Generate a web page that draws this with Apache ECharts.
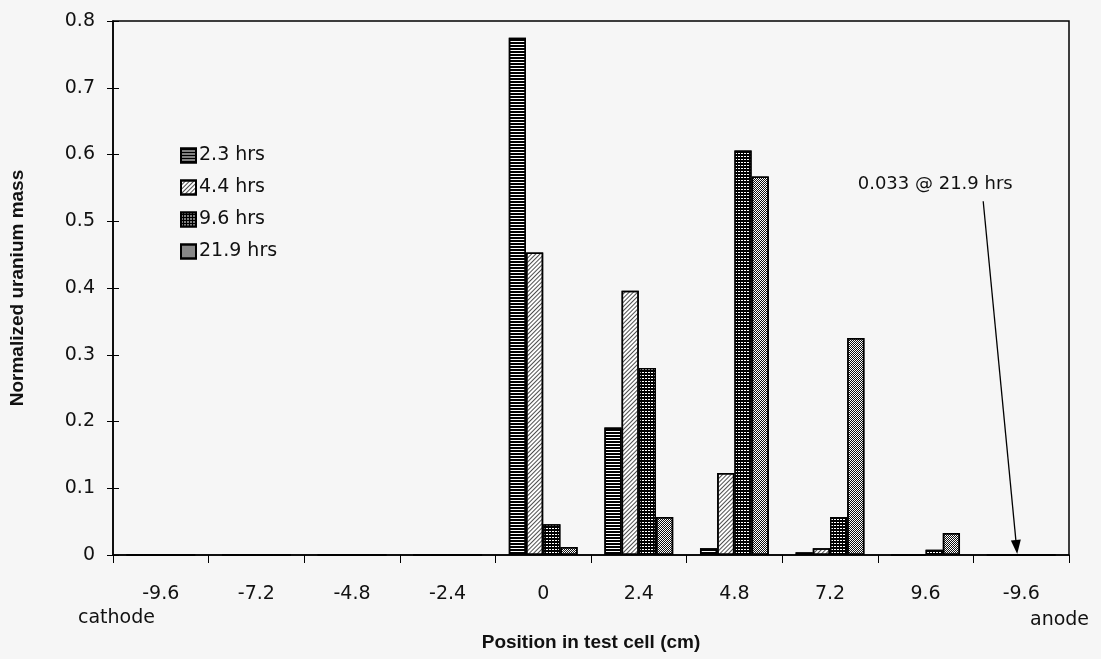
<!DOCTYPE html>
<html>
<head>
<meta charset="utf-8">
<script src="https://cdn.jsdelivr.net/npm/echarts@6/dist/echarts.min.js"></script>
<style>
  html, body { margin: 0; padding: 0; background: #f6f6f6; }
  #chart { width: 1101px; height: 659px; }
</style>
</head>
<body>
<div id="chart"></div>
<script>
// Positions along the test cell (cm), as labelled on the axis
const positions = ['-9.6', '-7.2', '-4.8', '-2.4', '0', '2.4', '4.8', '7.2', '9.6', '-9.6'];
const seriesNames = ['2.3 hrs', '4.4 hrs', '9.6 hrs', '21.9 hrs'];
// Normalized uranium mass at each position
const mass_2_3 = [0, 0, 0, 0, 0.775, 0.191, 0.010, 0.004, 0, 0];
const mass_4_4 = [0, 0, 0, 0, 0.453, 0.396, 0.123, 0.010, 0, 0];
const mass_9_6 = [0, 0, 0, 0, 0.046, 0.280, 0.606, 0.057, 0.008, 0];
const mass_21_9 = [0, 0, 0, 0, 0.012, 0.057, 0.567, 0.325, 0.033, 0];
const yTicks = [0, 0.1, 0.2, 0.3, 0.4, 0.5, 0.6, 0.7, 0.8];
const noteText = '0.033 @ 21.9 hrs';

const tickFont = 'DejaVu Sans';
const titleFont = 'Liberation Sans';

const patterns = [
  { fill: '#ffffff', decal: { symbol: 'rect', color: '#000', dashArrayX: [1, 0], dashArrayY: [2, 1], rotation: 0 } },
  { fill: '#ffffff', decal: { symbol: 'rect', color: '#222', dashArrayX: [1, 0], dashArrayY: [1, 2], rotation: -Math.PI / 4 } },
  { fill: '#000000', decal: { symbol: 'rect', color: '#fff', dashArrayX: [2, 1], dashArrayY: [1, 1.5], rotation: 0 } },
  { fill: '#ffffff', decal: { symbol: 'rect', color: '#111', dashArrayX: [[1, 1], [0, 1, 1, 0]], dashArrayY: [1, 0], rotation: 0 } }
];
const seriesData = [mass_2_3, mass_4_4, mass_9_6, mass_21_9];

const chart = echarts.init(document.getElementById('chart'), null, { renderer: 'canvas' });

const series = seriesNames.map((name, i) => ({
  name: name,
  type: 'bar',
  data: seriesData[i],
  barGap: '0%',
  barCategoryGap: '28%',
  itemStyle: {
    color: patterns[i].fill,
    borderColor: '#000',
    borderWidth: 1.5,
    decal: patterns[i].decal
  },
  emphasis: { disabled: true }
}));

chart.setOption({
  backgroundColor: '#f6f6f6',
  animation: false,
  aria: { enabled: true, decal: { show: true } },
  grid: {
    left: 113, right: 32, top: 21, bottom: 104,
    show: true, borderColor: '#000', borderWidth: 1.5, backgroundColor: 'transparent'
  },
  legend: {
    orient: 'vertical',
    left: 175, top: 141,
    itemWidth: 15, itemHeight: 14, itemGap: 13,
    icon: 'rect',
    textStyle: { fontFamily: tickFont, fontSize: 19, color: '#111', padding: [0, 0, 0, -2] },
    data: seriesNames
  },
  xAxis: {
    type: 'category',
    data: positions,
    name: 'Position in test cell (cm)',
    nameLocation: 'middle',
    nameGap: 78,
    nameTextStyle: { fontFamily: titleFont, fontWeight: 'bold', fontSize: 19, color: '#111' },
    axisLine: { lineStyle: { color: '#000', width: 1.5 } },
    axisTick: { show: true, length: 8, lineStyle: { color: '#000', width: 1 } },
    axisLabel: { fontFamily: tickFont, fontSize: 19, color: '#111', margin: 30 },
    splitLine: { show: false }
  },
  yAxis: [{
    type: 'value',
    min: 0, max: 0.8, interval: 0.1,
    name: 'Normalized uranium mass',
    nameLocation: 'middle',
    nameGap: 86,
    nameTextStyle: { fontFamily: titleFont, fontWeight: 'bold', fontSize: 19, color: '#111' },
    axisLine: { show: true, lineStyle: { color: '#000', width: 1.5 } },
    axisTick: { show: true, length: 6, lineStyle: { color: '#000', width: 1 } },
    axisLabel: {
      fontFamily: tickFont, fontSize: 19, color: '#111', margin: 18,
      formatter: v => {
        const t = yTicks.find(k => Math.abs(k - v) < 1e-9);
        return t === undefined ? '' : String(t);
      }
    },
    splitLine: { show: false }
  }, {
    // inner half of the crossing tick marks
    type: 'value',
    min: 0, max: 0.8, interval: 0.1,
    position: 'left',
    axisLine: { show: false },
    axisTick: { show: true, inside: true, length: 6, lineStyle: { color: '#000', width: 1 } },
    axisLabel: { show: false },
    splitLine: { show: false }
  }],
  series: series
});

// End labels under the axis and the annotation arrow
function drawExtras() {
  const base = chart.convertToPixel({ xAxisIndex: 0, yAxisIndex: 0 }, [0, 0]);
  const last = chart.convertToPixel({ xAxisIndex: 0, yAxisIndex: 0 }, [positions.length - 1, 0]);
  const noteY = chart.convertToPixel({ yAxisIndex: 0 }, 0.555);
  const startY = chart.convertToPixel({ yAxisIndex: 0 }, 0.53);
  const tip = [last[0] - 4, base[1] - 1];
  const start = [tip[0] - 34, startY];
  const ang = Math.atan2(tip[1] - start[1], tip[0] - start[0]);
  const L = 14, W = 5;
  const bx = tip[0] - L * Math.cos(ang), by = tip[1] - L * Math.sin(ang);
  const px = -Math.sin(ang) * W, py = Math.cos(ang) * W;
  chart.setOption({
    graphic: [
      { type: 'text', left: 78, top: 609,
        style: { text: 'cathode', font: '19px ' + tickFont, fill: '#111' } },
      { type: 'text', left: 1030, top: 611,
        style: { text: 'anode', font: '19px ' + tickFont, fill: '#111' } },
      { type: 'text', x: tip[0] - 82, y: noteY,
        style: { text: noteText, font: '18px ' + tickFont, fill: '#111', align: 'center', verticalAlign: 'middle' } },
      { type: 'line', shape: { x1: start[0], y1: start[1], x2: bx, y2: by },
        style: { stroke: '#000', lineWidth: 1.3 } },
      { type: 'polygon', shape: { points: [[tip[0], tip[1]], [bx + px, by + py], [bx - px, by - py]] },
        style: { fill: '#000' } }
    ]
  });
}
drawExtras();
</script>
</body>
</html>
